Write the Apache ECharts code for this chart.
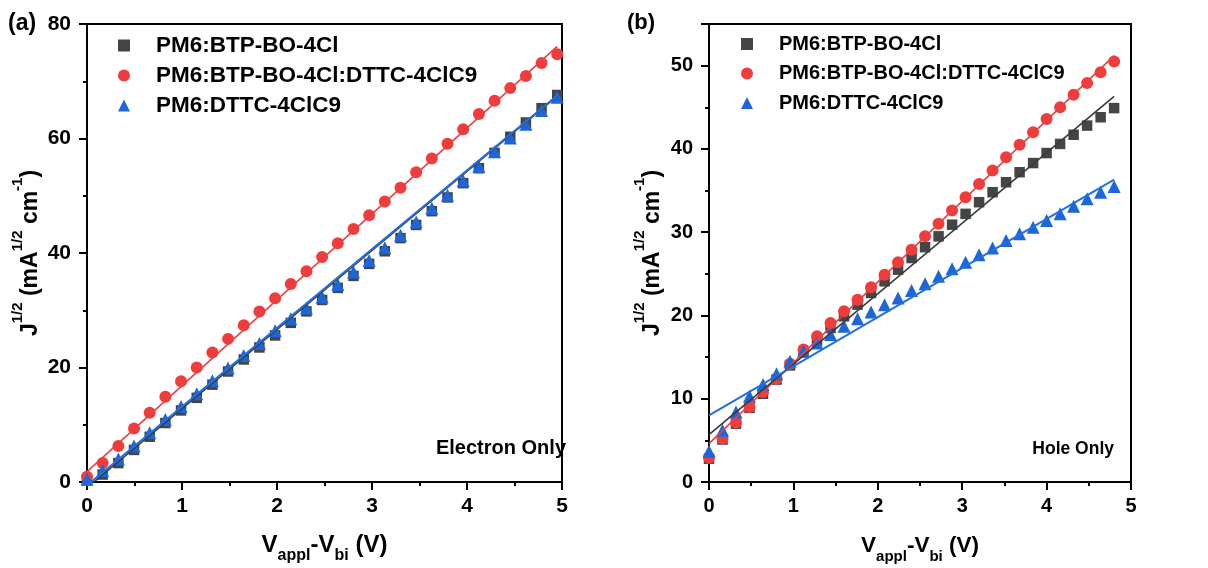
<!DOCTYPE html>
<html>
<head>
<meta charset="utf-8">
<script src="https://cdn.jsdelivr.net/npm/echarts@6/dist/echarts.min.js"></script>
<style>
  html, body { margin: 0; padding: 0; background: #fff; }
  #chart { width: 1208px; height: 568px; }
</style>
</head>
<body>
<div id="chart"></div>
<script>
// V_appl - V_bi (V) sweeps
const voltsElec = [0, 0.165, 0.33, 0.495, 0.66, 0.825, 0.99, 1.155, 1.32, 1.485, 1.65, 1.815, 1.98, 2.145, 2.31, 2.475,
  2.64, 2.805, 2.97, 3.135, 3.3, 3.465, 3.63, 3.795, 3.96, 4.125, 4.29, 4.455, 4.62, 4.785, 4.95]
const voltsHole = [0, 0.16, 0.32, 0.48, 0.64, 0.8, 0.96, 1.12, 1.28, 1.44, 1.6, 1.76, 1.92, 2.08, 2.24, 2.4,
  2.56, 2.72, 2.88, 3.04, 3.2, 3.36, 3.52, 3.68, 3.84, 4.0, 4.16, 4.32, 4.48, 4.64, 4.8]

const names = ['PM6:BTP-BO-4Cl', 'PM6:BTP-BO-4Cl:DTTC-4ClC9', 'PM6:DTTC-4ClC9']

// (a) electron only, J^1/2
const elecBtp = [0.3, 1.3, 3.3, 5.6, 7.9, 10.3, 12.5, 14.7, 17.0, 19.3, 21.4, 23.5, 25.6, 27.8, 29.8, 31.8,
  33.9, 36.0, 38.1, 40.3, 42.6, 44.9, 47.3, 49.7, 52.2, 54.8, 57.5, 60.3, 62.8, 65.3, 67.6]
const elecBlend = [0.9, 3.3, 6.3, 9.35, 12.1, 14.9, 17.6, 20.0, 22.6, 25.0, 27.4, 29.8, 32.1, 34.6, 36.8, 39.3,
  41.7, 44.2, 46.6, 49.0, 51.4, 54.1, 56.5, 59.1, 61.6, 64.3, 66.6, 68.8, 70.9, 73.2, 74.7]
const elecDttc = [0.5, 2.0, 4.0, 6.3, 8.6, 10.9, 13.2, 15.4, 17.7, 19.9, 22.1, 24.2, 26.4, 28.5, 30.4, 32.3,
  34.5, 36.7, 38.7, 40.9, 43.1, 45.4, 47.8, 50.1, 52.6, 55.1, 57.7, 60.1, 62.5, 64.9, 67.2]

// (b) hole only, J^1/2
const holeBtp = [2.8, 5.1, 7.0, 8.9, 10.6, 12.3, 14.0, 15.6, 17.0, 18.5, 19.9, 21.3, 22.7, 24.1, 25.5, 26.9,
  28.2, 29.5, 30.9, 32.2, 33.6, 34.8, 36.0, 37.2, 38.3, 39.5, 40.6, 41.7, 42.8, 43.8, 44.9]
const holeBlend = [2.9, 5.2, 7.1, 9.0, 10.8, 12.4, 14.2, 15.9, 17.5, 19.1, 20.5, 21.9, 23.4, 24.9, 26.4, 27.9,
  29.5, 31.0, 32.6, 34.2, 35.8, 37.4, 39.0, 40.5, 42.0, 43.6, 45.0, 46.5, 47.9, 49.2, 50.5]
const holeDttc = [3.7, 6.2, 8.4, 10.3, 11.7, 13.0, 14.5, 15.7, 16.7, 17.7, 18.7, 19.6, 20.4, 21.3, 22.1, 23.0,
  23.8, 24.7, 25.6, 26.4, 27.3, 28.1, 29.0, 29.8, 30.6, 31.4, 32.2, 33.1, 34.0, 34.8, 35.5]

// linear fits: x ends and fitted values there
const fitXElec = [0, 4.95]
const fitXHole = [0, 4.8]
const fitElecBtp = [-1.0, 67.4]
const fitElecBlend = [1.8, 76.1]
const fitElecDttc = [-0.6, 67.5]
const fitHoleBtp = [5.7, 46.3]
const fitHoleBlend = [4.6, 51.2]
const fitHoleDttc = [8.0, 36.3]

const colors = { btp: '#454545', blend: '#f03c3c', dttc: '#1c66da' }
const lineColors = { btp: '#3a3a3a', blend: '#e8403f', dttc: '#2270dc' }

const pair = (xs, ys) => xs.map((v, i) => [v, ys[i]])

const FONT = 'Liberation Sans, Arial, sans-serif'

function scatter(name, data, symbol, size, color, idx) {
  return {
    name: name,
    type: 'scatter',
    xAxisIndex: idx,
    yAxisIndex: idx,
    symbol: symbol,
    symbolSize: size,
    itemStyle: { color: color, opacity: 1 },
    data: data,
    z: 2
  }
}

function fit(data, color, idx, width) {
  return {
    type: 'line',
    xAxisIndex: idx,
    yAxisIndex: idx,
    data: data,
    symbol: 'none',
    silent: true,
    clip: true,
    lineStyle: { color: color, width: width || 1.6 },
    z: 3
  }
}

function xAxis(idx, fs, nameFs) {
  return {
    type: 'value',
    gridIndex: idx,
    min: 0,
    max: 5,
    interval: 1,
    name: '{b|V}{sub|appl}{b|-V}{sub|bi}{b| (V)}',
    nameLocation: 'middle',
    nameGap: 43,
    nameTextStyle: {
      rich: {
        b: { fontFamily: FONT, fontWeight: 'bold', fontSize: nameFs, color: '#000', verticalAlign: 'bottom', lineHeight: 32 },
        sub: { fontFamily: FONT, fontWeight: 'bold', fontSize: Math.round(nameFs * 0.65), color: '#000', verticalAlign: 'bottom', lineHeight: 32, padding: [0, 0, -7, 0] }
      }
    },
    axisLine: { show: true, onZero: false, lineStyle: { color: '#000', width: 2 } },
    axisTick: { show: true, inside: false, length: 8, lineStyle: { color: '#000', width: 2 } },
    minorTick: { show: true, splitNumber: 2, length: 4, lineStyle: { color: '#000', width: 2 } },
    splitLine: { show: false },
    axisLabel: { margin: 14, fontFamily: FONT, fontWeight: 'bold', fontSize: fs, color: '#000' }
  }
}

function yAxis(idx, max, interval, fs) {
  return {
    type: 'value',
    gridIndex: idx,
    min: 0,
    max: max,
    interval: interval,
    name: '{b|J}{sup|1/2}{b| (mA}{sup|1/2}{b| cm}{sup|-1}{b|)}',
    nameLocation: 'middle',
    nameRotate: 90,
    nameGap: 45,
    nameTextStyle: {
      rich: {
        b: { fontFamily: FONT, fontWeight: 'bold', fontSize: 23, color: '#000', verticalAlign: 'bottom', lineHeight: 32 },
        sup: { fontFamily: FONT, fontWeight: 'bold', fontSize: 15, color: '#000', verticalAlign: 'top', lineHeight: 32 }
      }
    },
    axisLine: { show: true, onZero: false, lineStyle: { color: '#000', width: 2 } },
    axisTick: { show: true, inside: false, length: 8, lineStyle: { color: '#000', width: 2 } },
    minorTick: { show: true, splitNumber: 2, length: 4, lineStyle: { color: '#000', width: 2 } },
    splitLine: { show: false },
    axisLabel: { margin: 16, showMaxLabel: max % interval === 0, fontFamily: FONT, fontWeight: 'bold', fontSize: fs, color: '#000' }
  }
}

function legend(left, fs, gap) {
  return {
    orient: 'vertical',
    left: left,
    top: 29,
    itemWidth: 12,
    itemHeight: 12,
    itemGap: gap,
    selectedMode: false,
    data: [
      { name: names[0], icon: 'rect' },
      { name: names[1], icon: 'circle' },
      { name: names[2], icon: 'triangle' }
    ],
    textStyle: { fontFamily: FONT, fontWeight: 'bold', fontSize: fs, color: '#000', padding: [0, 0, 0, 21] }
  }
}

const chart = echarts.init(document.getElementById('chart'), null, { renderer: 'canvas' })

chart.setOption({
  animation: false,
  backgroundColor: '#fff',
  grid: [
    { left: 87, top: 24, width: 475, height: 458, outerBoundsMode: 'none', containLabel: false, show: true, borderColor: '#000', borderWidth: 2, backgroundColor: 'transparent' },
    { left: 709, top: 24, width: 422, height: 458, outerBoundsMode: 'none', containLabel: false, show: true, borderColor: '#000', borderWidth: 2, backgroundColor: 'transparent' }
  ],
  legend: [legend(113, 22.5, 7), legend(736, 20, 9.5)],
  xAxis: [xAxis(0, 21, 24), xAxis(1, 20, 22.5)],
  yAxis: [yAxis(0, 80, 20, 21), yAxis(1, 55, 10, 20)],
  graphic: [
    { type: 'text', left: 8, top: 12, style: { text: '(a)', font: 'bold 23px ' + FONT, fill: '#000' } },
    { type: 'text', left: 627, top: 12, style: { text: '(b)', font: 'bold 22px ' + FONT, fill: '#000' } },
    { type: 'text', right: 1208 - 566, top: 438, style: { text: 'Electron Only', font: 'bold 20px ' + FONT, fill: '#000' } },
    { type: 'text', right: 1208 - 1114, top: 440, style: { text: 'Hole Only', font: 'bold 17.5px ' + FONT, fill: '#000' } }
  ],
  series: [
    scatter(names[0], pair(voltsElec, elecBtp), 'rect', 10.5, colors.btp, 0),
    scatter(names[1], pair(voltsElec, elecBlend), 'circle', 12, colors.blend, 0),
    scatter(names[2], pair(voltsElec, elecDttc), 'triangle', 13, colors.dttc, 0),
    fit(pair(fitXElec, fitElecBlend), lineColors.blend, 0),
    fit(pair(fitXElec, fitElecBtp), lineColors.btp, 0),
    fit(pair(fitXElec, fitElecDttc), lineColors.dttc, 0, 2),

    scatter(names[0], pair(voltsHole, holeBtp), 'rect', 10.5, colors.btp, 1),
    scatter(names[1], pair(voltsHole, holeBlend), 'circle', 12, colors.blend, 1),
    scatter(names[2], pair(voltsHole, holeDttc), 'triangle', 13, colors.dttc, 1),
    fit(pair(fitXHole, fitHoleBlend), lineColors.blend, 1),
    fit(pair(fitXHole, fitHoleBtp), lineColors.btp, 1),
    fit(pair(fitXHole, fitHoleDttc), lineColors.dttc, 1, 2)
  ]
})
</script>
</body>
</html>
